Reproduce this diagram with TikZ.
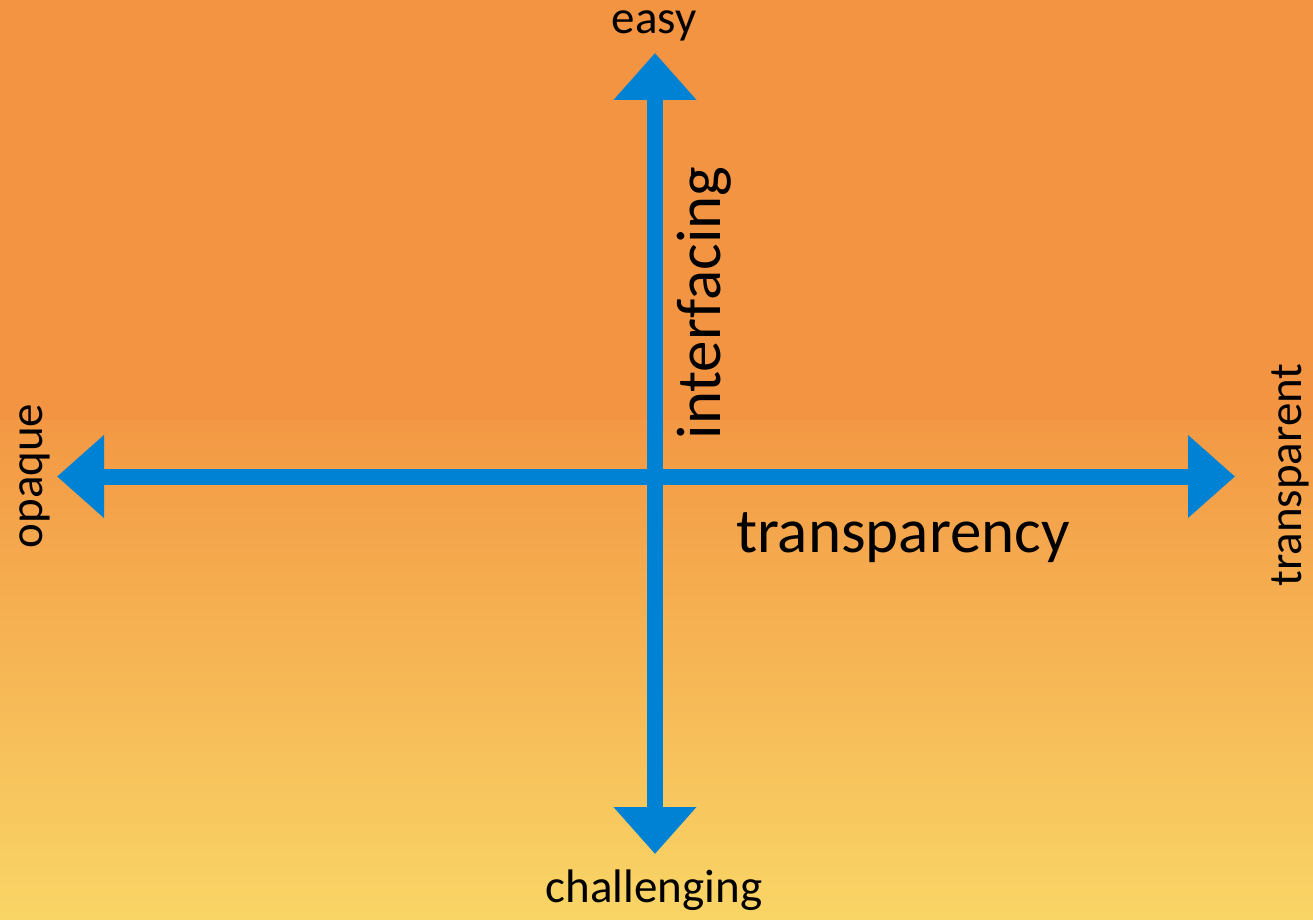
\documentclass[tikz,border=0pt]{standalone}
\usepackage{fontspec}
\setmainfont{Carlito}
\usetikzlibrary{arrows.meta}
\definecolor{bgtop}{RGB}{242,148,65}
\definecolor{bgmid}{RGB}{243,152,68}
\definecolor{bgbot}{RGB}{249,213,102}
\definecolor{axisblue}{RGB}{0,130,212}
\tikzset{
  axisline/.style={draw=axisblue, line width=8pt,
    {Triangle[length=23.5pt,width=40pt]}-{Triangle[length=23.5pt,width=40pt]}},
  poletext/.style={font=\fontsize{23.5}{28}\selectfont, text=black, inner sep=0pt},
  axistext/.style={font=\fontsize{31.5}{38}\selectfont, text=black, inner sep=0pt}
}
\begin{document}
\begin{tikzpicture}[x=0.5pt, y=-0.5pt]
  \useasboundingbox (0,0) rectangle (1313,920);
  % background: flat orange on top, fading to yellow below
  \fill[bgtop] (0,0) rectangle (1313,422);
  \shade[top color=bgmid, bottom color=bgbot] (0,420) rectangle (1313,920);

  % axis end points
  \coordinate (L) at (57,476.5);
  \coordinate (R) at (1235,476.5);
  \coordinate (T) at (655,53);
  \coordinate (B) at (655,854);

  \draw[axisline] (L) -- (R);
  \draw[axisline] (B) -- (T);

  % pole labels
  \node[poletext, anchor=base] (easy) at (654,34) {easy};
  \node[poletext, anchor=base] (chal) at (654,902) {challenging};
  \node[poletext, anchor=base, rotate=90] (opaque) at (42,476) {opaque};
  \node[poletext, anchor=base, rotate=90] (transp) at (1301,475) {transparent};

  % axis names
  \node[axistext, anchor=base, rotate=90] (interf) at (720,303) {interfacing};
  \node[axistext, anchor=base] (transparency) at (903,552) {transparency};
\end{tikzpicture}
\end{document}
